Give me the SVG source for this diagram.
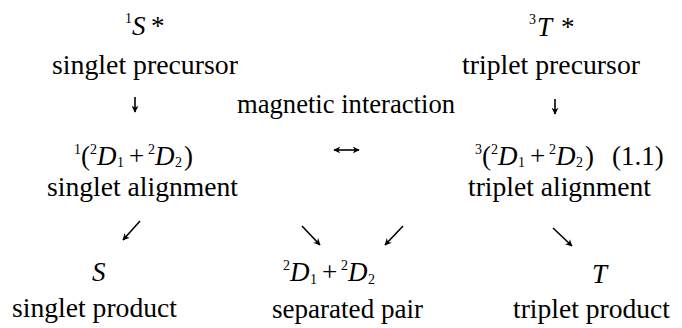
<svg xmlns="http://www.w3.org/2000/svg" width="682" height="328" viewBox="0 0 682 328">
<style>
text{font-family:"Liberation Serif","Times New Roman",serif;font-size:27px;fill:#000}
.it{font-style:italic}
.sm{font-size:14px}
.ar{stroke:#000;stroke-width:1.6;fill:none}
</style>
<defs>
<marker id="ah" viewBox="0 0 10 10" refX="9" refY="5" markerWidth="7" markerHeight="7" markerUnits="userSpaceOnUse" orient="auto-start-reverse">
<path d="M0,0 L10,5 L0,10 L3,5 Z" fill="#000"/>
</marker>
</defs>
<rect width="682" height="328" fill="#fff"/>
<g id="singlet-precursor">
<text class="sm" x="125" y="23">1</text>
<text class="it" x="132" y="35">S</text>
<text x="151" y="35">*</text>
<text x="52" y="74" textLength="186" lengthAdjust="spacingAndGlyphs">singlet precursor</text>
</g>
<g id="triplet-precursor">
<text class="sm" x="529" y="24">3</text>
<text class="it" x="537" y="36">T</text>
<text x="561" y="36">*</text>
<text x="462" y="74" textLength="178" lengthAdjust="spacingAndGlyphs">triplet precursor</text>
</g>
<g id="magnetic-interaction">
<text x="237" y="113" textLength="218" lengthAdjust="spacingAndGlyphs">magnetic interaction</text>
</g>
<g id="singlet-alignment">
<text class="sm" x="74" y="154">1</text>
<text x="81" y="165">(</text>
<text class="sm" x="90" y="154">2</text>
<text class="it" x="97" y="165">D</text>
<text class="sm" x="117" y="167">1</text>
<text x="129" y="165">+</text>
<text class="sm" x="148" y="154">2</text>
<text class="it" x="155" y="165">D</text>
<text class="sm" x="175" y="167">2</text>
<text x="184" y="165">)</text>
<text x="47" y="196" textLength="191" lengthAdjust="spacingAndGlyphs">singlet alignment</text>
</g>
<g id="triplet-alignment">
<text class="sm" x="475" y="154">3</text>
<text x="482" y="165">(</text>
<text class="sm" x="491" y="154">2</text>
<text class="it" x="498" y="165">D</text>
<text class="sm" x="518" y="167">1</text>
<text x="530" y="165">+</text>
<text class="sm" x="549" y="154">2</text>
<text class="it" x="556" y="165">D</text>
<text class="sm" x="576" y="167">2</text>
<text x="585" y="165">)</text>
<text x="612" y="165">(1.1)</text>
<text x="468" y="196" textLength="183" lengthAdjust="spacingAndGlyphs">triplet alignment</text>
</g>
<g id="singlet-product">
<text class="it" x="92" y="281">S</text>
<text x="12" y="317" textLength="165" lengthAdjust="spacingAndGlyphs">singlet product</text>
</g>
<g id="separated-pair">
<text class="sm" x="283" y="270">2</text>
<text class="it" x="290" y="281">D</text>
<text class="sm" x="310" y="284">1</text>
<text x="322" y="281">+</text>
<text class="sm" x="341" y="270">2</text>
<text class="it" x="348" y="281">D</text>
<text class="sm" x="368" y="284">2</text>
<text x="272" y="318" textLength="151" lengthAdjust="spacingAndGlyphs">separated pair</text>
</g>
<g id="triplet-product">
<text class="it" x="592" y="283">T</text>
<text x="513" y="318" textLength="157" lengthAdjust="spacingAndGlyphs">triplet product</text>
</g>
<g id="connectors">
<line class="ar" x1="135" y1="97" x2="135" y2="112" marker-end="url(#ah)"/>
<line class="ar" x1="555" y1="99" x2="555" y2="114" marker-end="url(#ah)"/>
<line class="ar" x1="334" y1="150" x2="359" y2="150" marker-start="url(#ah)" marker-end="url(#ah)"/>
<line class="ar" x1="140" y1="221" x2="123" y2="240" marker-end="url(#ah)"/>
<line class="ar" x1="302" y1="226" x2="320" y2="245" marker-end="url(#ah)"/>
<line class="ar" x1="403" y1="226" x2="385" y2="245" marker-end="url(#ah)"/>
<line class="ar" x1="553" y1="228" x2="572" y2="246" marker-end="url(#ah)"/>
</g>
</svg>
